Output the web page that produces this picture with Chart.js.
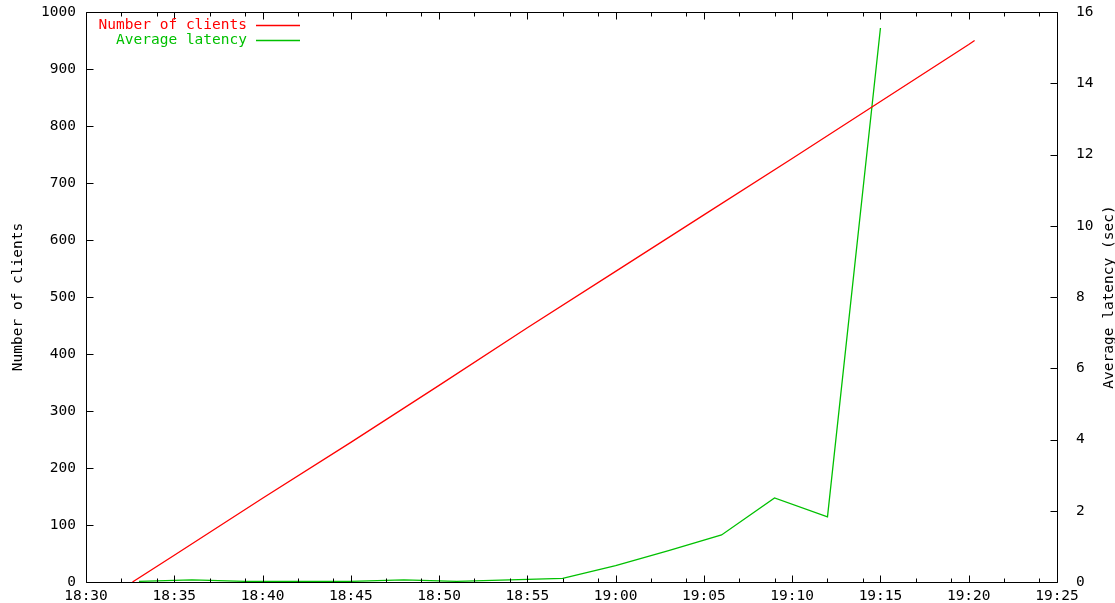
<!DOCTYPE html>
<html>
<head>
<meta charset="utf-8">
<title>Clients and latency</title>
<script src="https://cdn.jsdelivr.net/npm/chart.js@4/dist/chart.umd.min.js"></script>
<style>
  html, body { margin: 0; padding: 0; background: #fff; }
  #wrap { width: 1115px; height: 603px; position: relative; }
</style>
</head>
<body>
<div id="wrap"><canvas id="c" width="1115" height="603"></canvas></div>
<script>
// Number of connected clients over time
const clientTimes = ['18:32:38', '18:35', '18:40', '18:45', '18:50', '18:55', '19:00', '19:05', '19:10', '19:15', '19:20', '19:20:20'];
const clientCounts = [0, 47, 147, 245, 345, 446, 545, 644, 743, 843, 943, 950];

// Average request latency (seconds), sampled every three minutes
const latencyTimes = ['18:33', '18:36', '18:39', '18:42', '18:45', '18:48', '18:51', '18:54', '18:57', '19:00', '19:03', '19:06', '19:09', '19:12', '19:15'];
const latencySec = [0.02, 0.06, 0.02, 0.02, 0.02, 0.06, 0.02, 0.06, 0.10, 0.46, 0.88, 1.32, 2.36, 1.83, 15.55];

// Axis ranges and tick labels
const xStart = '18:30';
const xEnd = '19:25';
const xStepMin = 5;
const clientTicks = [0, 100, 200, 300, 400, 500, 600, 700, 800, 900, 1000];
const latencyTicks = [0, 2, 4, 6, 8, 10, 12, 14, 16];

const seriesNames = ['Number of clients', 'Average latency'];
const axisTitles = ['Number of clients', 'Average latency (sec)'];

const RED = '#ff0000';
const GREEN = '#00c000';
const FONT = '14.5px "DejaVu Sans Mono", monospace';

function toMin(s) {
  const p = s.split(':').map(Number);
  return p[0] * 60 + p[1] + (p[2] || 0) / 60;
}
function fmt(m) {
  const h = Math.floor(m / 60), mm = Math.round(m - h * 60);
  return String(h).padStart(2, '0') + ':' + String(mm).padStart(2, '0');
}

const clientPts = clientTimes.map((t, i) => ({ x: toMin(t), y: clientCounts[i] }));
const latencyPts = latencyTimes.map((t, i) => ({ x: toMin(t), y: latencySec[i] }));

// Frame, inward tick marks, legend and axis titles in the classic plotting style
const framePlugin = {
  id: 'frame',
  afterDraw(chart) {
    const { ctx, chartArea: a, scales } = chart;
    const { x, y, y2 } = scales;
    const L = Math.round(a.left) + 0.5, R = Math.round(a.right) + 0.5;
    const T = Math.round(a.top) + 0.5, B = Math.round(a.bottom) + 0.5;
    ctx.save();
    ctx.strokeStyle = '#000';
    ctx.lineWidth = 1;
    ctx.beginPath();
    ctx.rect(L, T, R - L, B - T);

    const major = 7, minor = 4;
    // x axis: major ticks every 5 minutes, minor ticks at +2 and +4 minutes (bottom and top)
    x.ticks.forEach((tk, i) => {
      const px = Math.round(x.getPixelForValue(tk.value)) + 0.5;
      ctx.moveTo(px, B); ctx.lineTo(px, B - major);
      ctx.moveTo(px, T); ctx.lineTo(px, T + major);
      if (i < x.ticks.length - 1) {
        [2, 4].forEach(o => {
          const mx = Math.round(x.getPixelForValue(tk.value + o)) + 0.5;
          ctx.moveTo(mx, B); ctx.lineTo(mx, B - minor);
          ctx.moveTo(mx, T); ctx.lineTo(mx, T + minor);
        });
      }
    });
    // left axis ticks
    y.ticks.forEach(tk => {
      const py = Math.round(y.getPixelForValue(tk.value)) + 0.5;
      ctx.moveTo(L, py); ctx.lineTo(L + major, py);
    });
    // right axis ticks
    y2.ticks.forEach(tk => {
      const py = Math.round(y2.getPixelForValue(tk.value)) + 0.5;
      ctx.moveTo(R, py); ctx.lineTo(R - major, py);
    });
    ctx.stroke();

    // legend: right-aligned labels with a line sample after each
    ctx.font = FONT;
    ctx.textBaseline = 'middle';
    chart.data.datasets.forEach((ds, i) => {
      const ly = Math.round(a.top + 13 + i * 14.5);
      const col = ds.borderColor;
      ctx.textAlign = 'right';
      ctx.fillStyle = col;
      ctx.fillText(ds.label, a.left + 161, ly);
      ctx.beginPath();
      ctx.strokeStyle = col;
      ctx.lineWidth = 1.5;
      ctx.moveTo(a.left + 170, ly + 0.5);
      ctx.lineTo(a.left + 214, ly + 0.5);
      ctx.stroke();
    });

    // axis titles, both reading bottom to top
    ctx.fillStyle = '#000';
    ctx.textAlign = 'center';
    const cy = (a.top + a.bottom) / 2;
    [[18, axisTitles[0]], [1109, axisTitles[1]]].forEach(([tx, txt]) => {
      ctx.save();
      ctx.translate(tx, cy);
      ctx.rotate(-Math.PI / 2);
      ctx.fillText(txt, 0, 0);
      ctx.restore();
    });
    ctx.restore();
  }
};

const tickFont = { family: '"DejaVu Sans Mono", monospace', size: 14.5 };

function fitV(width) {
  return s => { s.width = width; s.paddingTop = 0; s.paddingBottom = 0; };
}

new Chart(document.getElementById('c'), {
  type: 'line',
  data: {
    datasets: [
      { label: seriesNames[0], data: clientPts, yAxisID: 'y', borderColor: RED, borderWidth: 1.3, pointRadius: 0, tension: 0, fill: false },
      { label: seriesNames[1], data: latencyPts, yAxisID: 'y2', borderColor: GREEN, borderWidth: 1.3, pointRadius: 0, tension: 0, fill: false }
    ]
  },
  options: {
    responsive: false,
    animation: false,
    events: [],
    layout: { padding: { top: 12, left: 0, right: 0, bottom: 0 } },
    plugins: { legend: { display: false }, tooltip: { enabled: false } },
    scales: {
      x: {
        type: 'linear',
        min: toMin(xStart),
        max: toMin(xEnd),
        grid: { display: false, drawTicks: false },
        border: { display: false },
        afterFit(s) { s.height = 21; s.paddingLeft = 0; s.paddingRight = 0; },
        ticks: {
          stepSize: xStepMin,
          padding: 6,
          color: '#000',
          font: tickFont,
          maxRotation: 0,
          autoSkip: false,
          callback: v => fmt(v)
        }
      },
      y: {
        position: 'left',
        min: clientTicks[0],
        max: clientTicks[clientTicks.length - 1],
        grid: { display: false, drawTicks: false },
        border: { display: false },
        afterFit: fitV(86),
        afterBuildTicks(s) { s.ticks = clientTicks.map(v => ({ value: v })); },
        ticks: { padding: 10, color: '#000', font: tickFont, callback: v => String(v) }
      },
      y2: {
        position: 'right',
        min: latencyTicks[0],
        max: latencyTicks[latencyTicks.length - 1],
        grid: { display: false, drawTicks: false },
        border: { display: false },
        afterFit: fitV(58),
        afterBuildTicks(s) { s.ticks = latencyTicks.map(v => ({ value: v })); },
        ticks: { padding: 19, color: '#000', font: tickFont, callback: v => String(v) }
      }
    }
  },
  plugins: [framePlugin]
});
</script>
</body>
</html>
